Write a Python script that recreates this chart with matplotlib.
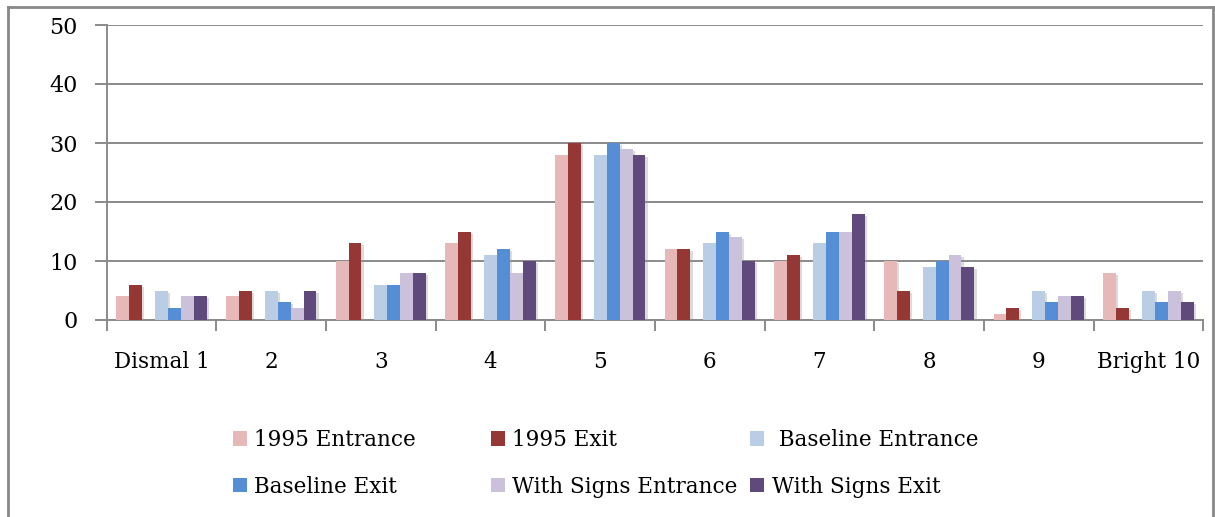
import numpy as np
import matplotlib.pyplot as plt
from matplotlib.lines import Line2D
from matplotlib.patches import Patch
import matplotlib.patheffects as pe

categories = ["Dismal 1", "2", "3", "4", "5", "6", "7", "8", "9", "Bright 10"]

entrance_1995 = [4, 4, 10, 13, 28, 12, 10, 10, 1, 8]
exit_1995 = [6, 5, 13, 15, 30, 12, 11, 5, 2, 2]
baseline_entrance = [5, 5, 6, 11, 28, 13, 13, 9, 5, 5]
baseline_exit = [2, 3, 6, 12, 30, 15, 15, 10, 3, 3]
signs_entrance = [4, 2, 8, 8, 29, 14, 15, 11, 4, 5]
signs_exit = [4, 5, 8, 10, 28, 10, 18, 9, 4, 3]

series_names = ["1995 Entrance", "1995 Exit", " Baseline Entrance",
                "Baseline Exit", "With Signs Entrance", "With Signs Exit"]
series_values = [entrance_1995, exit_1995, baseline_entrance,
                 baseline_exit, signs_entrance, signs_exit]
colors = ["#E6B9B8", "#953735", "#B9CDE5", "#558ED5", "#CCC1DA", "#604A7B"]
# bar slot inside a group of 7 (slot 2 is an empty gap)
slots = [0, 1, 3, 4, 5, 6]

W, H = 1215, 517
plt.rcParams["font.family"] = ["DejaVu Serif"]
fig = plt.figure(figsize=(W / 100, H / 100), dpi=100)
ax = fig.add_axes([106.7 / W, 1 - 320 / H, (1203.3 - 106.7) / W, (320 - 25) / H])

x = np.arange(len(categories))
bw = 0.118
shadow = [pe.SimplePatchShadow(offset=(1.5, -1.5), shadow_rgbFace="#999999", alpha=0.35),
          pe.Normal()]
for name, vals, c, s in zip(series_names, series_values, colors, slots):
    ax.bar(x + (s - 3) * bw, vals, width=bw, color=c, label=name,
           zorder=3, path_effects=shadow)

grid_c = "#8a8a8a"
ax.set_ylim(0, 50)
ax.set_xlim(-0.5, len(categories) - 0.5)
ax.set_yticks(range(0, 51, 10))
ax.yaxis.grid(True, color=grid_c, linewidth=1.4, zorder=0)
ax.set_axisbelow(True)

# ticks at category boundaries, labels at centres
ax.set_xticks(np.arange(-0.5, len(categories), 1.0))
ax.set_xticklabels([])
ax.set_xticks(x, minor=True)
ax.set_xticklabels(categories, minor=True)
ax.tick_params(axis="x", which="major", length=8, width=1.4, color=grid_c)
ax.tick_params(axis="x", which="minor", length=0, pad=22, labelsize=15.5)
ax.tick_params(axis="y", length=9, width=1.4, color=grid_c, pad=12, labelsize=16)

for side in ["top", "right"]:
    ax.spines[side].set_visible(False)
for side in ["left", "bottom"]:
    ax.spines[side].set_color(grid_c)
    ax.spines[side].set_linewidth(1.4)

# outer chart frame
frame_c = "#888888"
fl, fr, ft = 8 / W, 1212.5 / W, 1 - 7 / H
fig.add_artist(Line2D([fl, fl], [0, ft], color=frame_c, lw=2, transform=fig.transFigure))
fig.add_artist(Line2D([fl, fr], [ft, ft], color=frame_c, lw=2, transform=fig.transFigure))
fig.add_artist(Line2D([fr, fr], [0, ft], color=frame_c, lw=2, transform=fig.transFigure))

# legend: three columns of two rows
handles = [Patch(facecolor=c, edgecolor="none") for c in colors]
col_x = [232.6, 490.7, 750.0]
for i, cx in enumerate(col_x):
    idx = [i, i + 3]
    fig.legend([handles[j] for j in idx], [series_names[j] for j in idx],
               loc="center left", bbox_to_anchor=(cx / W, 1 - 463.5 / H),
               frameon=False, fontsize=15.5, handlelength=0.65, handleheight=0.65,
               handletextpad=0.35, labelspacing=1.14, borderpad=0, borderaxespad=0)

fig.savefig("out.png", dpi=100)
